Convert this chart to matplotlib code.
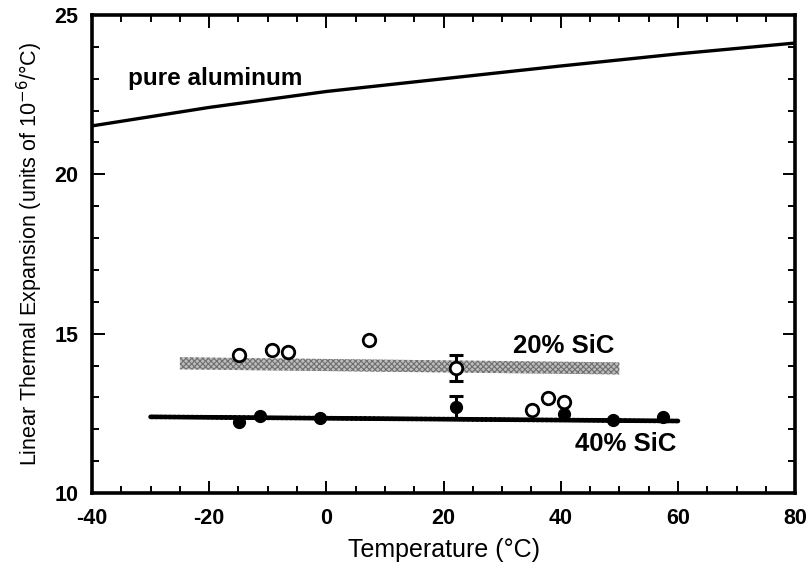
import matplotlib.pyplot as plt
from matplotlib.ticker import MultipleLocator

plt.rcParams['font.family'] = ['Liberation Sans', 'DejaVu Sans']
plt.rcParams['axes.unicode_minus'] = False
plt.rcParams['hatch.linewidth'] = 0.8

# pure aluminum curve
al_temp = [-40, -20, 0, 20, 40, 60, 80]
al_cte = [21.52, 22.1, 22.6, 23.0, 23.4, 23.78, 24.12]

# 20% SiC: measured points (open circles) and fitted band
sic20_temp = [-14.9, -9.3, -6.5, 7.3, 22.1, 35.1, 37.8, 40.6]
sic20_cte = [14.33, 14.49, 14.43, 14.80, 13.92, 12.61, 12.98, 12.86]
sic20_err_temp = [22.1]
sic20_err_cte = [13.92]
sic20_err = [0.4]
band20_temp = [-25, 50]
band20_lo = [13.88, 13.72]
band20_hi = [14.26, 14.10]

# 40% SiC: measured points (filled circles) and fitted line
sic40_temp = [-14.9, -11.3, -1.1, 22.1, 40.6, 48.9, 57.5]
sic40_cte = [12.23, 12.42, 12.35, 12.70, 12.48, 12.29, 12.39]
sic40_err_temp = [22.1]
sic40_err_cte = [12.70]
sic40_err = [0.36]
line40_temp = [-30, 60]
line40_cte = [12.39, 12.26]

fig = plt.figure(figsize=(8.1, 5.68), dpi=100)
ax = fig.add_axes([0.1136, 0.132, 0.868, 0.8416])

ax.plot(al_temp, al_cte, color='black', lw=2.4)

ax.fill_between(band20_temp, band20_lo, band20_hi, facecolor='#bdbdbd',
                edgecolor='#6e6e6e', hatch='xxxxxx', lw=0)

ax.plot(line40_temp, line40_cte, color='black', lw=3.4,
        linestyle=(0, (0.6, 0.35)), dash_capstyle='round')

ax.errorbar(sic20_err_temp, sic20_err_cte, yerr=sic20_err, fmt='none',
            ecolor='black', elinewidth=2.2, capsize=5, capthick=2.2)
ax.errorbar(sic40_err_temp, sic40_err_cte, yerr=sic40_err, fmt='none',
            ecolor='black', elinewidth=2.2, capsize=5, capthick=2.2)

ax.plot(sic20_temp, sic20_cte, 'o', mfc='white', mec='black', mew=2, ms=9)
ax.plot(sic40_temp, sic40_cte, 'o', color='black', ms=8.5)

ax.text(-33.85, 22.8, 'pure aluminum', fontsize=17.5, fontweight='bold',
        va='baseline')
ax.text(31.9, 14.39, '20% SiC', fontsize=18.5, fontweight='bold',
        va='baseline')
ax.text(42.45, 11.32, '40% SiC', fontsize=18.5, fontweight='bold',
        va='baseline')

ax.set_xlim(-40, 80)
ax.set_ylim(10, 25)
ax.xaxis.set_major_locator(MultipleLocator(20))
ax.xaxis.set_minor_locator(MultipleLocator(5))
ax.yaxis.set_major_locator(MultipleLocator(5))
ax.yaxis.set_minor_locator(MultipleLocator(1))
ax.tick_params(which='both', direction='in', top=True, right=True,
               labelsize=15.5, width=1.4)
ax.tick_params(which='major', length=9)
ax.tick_params(which='minor', length=5)
ax.tick_params(axis='x', pad=11)
ax.tick_params(axis='y', pad=10)
for lab in ax.get_xticklabels() + ax.get_yticklabels():
    lab.set_fontweight('bold')
for sp in ax.spines.values():
    sp.set_linewidth(2.6)

ax.set_xlabel('Temperature (°C)', fontsize=18)
ax.set_ylabel('Linear Thermal Expansion (units of 10$^{-6}$/°C)', fontsize=15.5)
ax.yaxis.set_label_coords(-0.067, 0.5)
ax.xaxis.set_label_coords(0.5, -0.094)

fig.savefig('out.png', dpi=100)
